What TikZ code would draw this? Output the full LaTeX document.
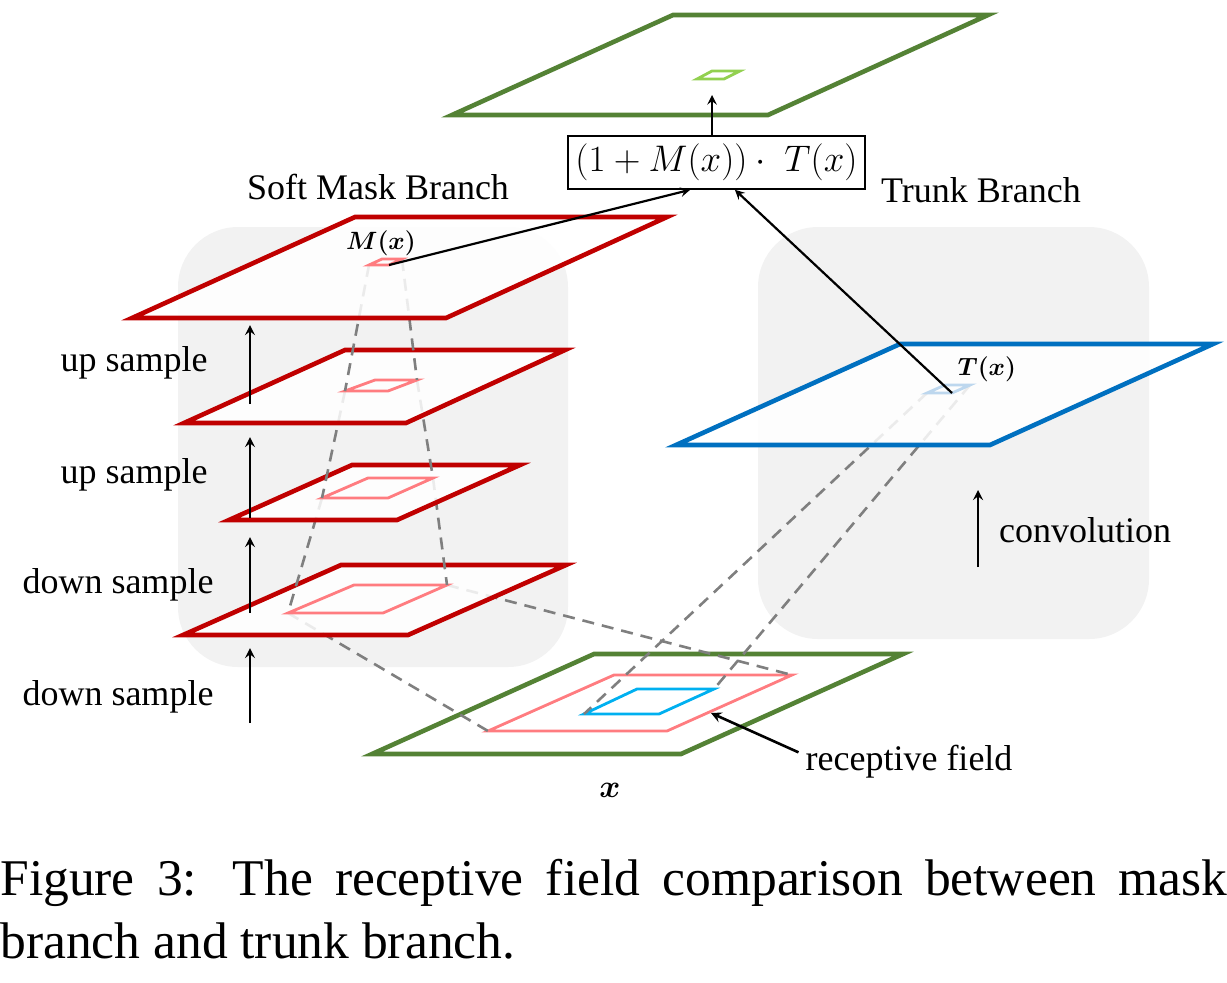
\RequirePackage{fix-cm}
\documentclass[tikz,border=0pt]{standalone}
\usepackage{fontspec}
\setmainfont{Liberation Serif}
\newfontfamily\figfont{Liberation Serif}
\usepackage{bm}
\definecolor{maskred}{HTML}{C00000}
\definecolor{fieldred}{HTML}{FF7C80}
\definecolor{outgreen}{HTML}{548235}
\definecolor{spotgreen}{HTML}{92D050}
\definecolor{trunkblue}{HTML}{0070C0}
\definecolor{fieldblue}{HTML}{00B0F0}
\definecolor{spotblue}{HTML}{BDD7EE}
\definecolor{boxgray}{HTML}{F2F2F2}
\definecolor{raygray}{HTML}{7F7F7F}
\tikzset{
	layer/.style={line width=2.3pt, fill=white, fill opacity=0.85},
	patch/.style={line width=1.4pt},
	ray/.style={line width=1.3pt, draw=raygray, dash pattern=on 6pt off 4pt},
	branch/.style={fill=boxgray, rounded corners=30pt},
	up/.style={->, line width=1.2pt},
	hint/.style={->, line width=1.1pt}
}
\begin{document}
\begin{tikzpicture}[x=0.5pt, y=-0.5pt, >=stealth, font=\figfont\fontsize{18}{22}\selectfont]
		\useasboundingbox (0,0) rectangle (1227,982);
		%	\draw[color=gray!30] (0,0) grid[step=50] (1227,982);
		\fill[branch] (178,227) rectangle (568,667);
		\fill[branch] (758,227) rectangle (1149,639);
		% input x
		\draw[layer, draw=outgreen] (594,654) -- (903,654) -- (681,754) -- (372,754) -- cycle;
		\path (614,675) coordinate (rf1) (792,675) coordinate (rf2) (667,731) coordinate (rf3) (488,731) coordinate (rf4);
		\draw[patch, draw=fieldred] (rf1) -- (rf2) -- (rf3) -- (rf4) -- cycle;
		\path (637,689) coordinate (cv1) (714,689) coordinate (cv2) (659,714) coordinate (cv3) (584,714) coordinate (cv4);
		\draw[patch, draw=fieldblue] (cv1) -- (cv2) -- (cv3) -- (cv4) -- cycle;
		\path (945,385) coordinate (t1) (970,385) coordinate (t2) (952,393) coordinate (t3) (927,393) coordinate (t4);
		\path (354,585) coordinate (d1) (447,585) coordinate (d2) (383,613) coordinate (d3) (288,613) coordinate (d4);
		\path (368,478) coordinate (u1) (433,478) coordinate (u2) (388,498) coordinate (u3) (322,498) coordinate (u4);
		\path (375,380) coordinate (v1) (417,380) coordinate (v2) (388,391) coordinate (v3) (345,391) coordinate (v4);
		\path (382,259) coordinate (m1) (402,259) coordinate (m2) (389,265) coordinate (m3) (369,265) coordinate (m4);
		\draw[ray] (d4) -- (rf4);
		\draw[ray] (d2) -- (rf2);
		\draw[ray] (t4) -- (cv4);
		\draw[ray] (t2) -- (cv2);
		% soft mask branch
		\draw[layer, draw=maskred] (341,565) -- (566,565) -- (408,635) -- (183,635) -- cycle;
		\draw[patch, draw=fieldred] (d1) -- (d2) -- (d3) -- (d4) -- cycle;
		\draw[ray] (u4) -- (d4);
		\draw[ray] (u2) -- (d2);
		\draw[layer, draw=maskred] (352,465) -- (520,465) -- (397,520) -- (229,520) -- cycle;
		\draw[patch, draw=fieldred] (u1) -- (u2) -- (u3) -- (u4) -- cycle;
		\draw[ray] (v4) -- (u4);
		\draw[ray] (v2) -- (u2);
		\draw[layer, draw=maskred] (345,350) -- (565,350) -- (406,423) -- (184,423) -- cycle;
		\draw[patch, draw=fieldred] (v1) -- (v2) -- (v3) -- (v4) -- cycle;
		\draw[ray] (m4) -- (v4);
		\draw[ray] (m2) -- (v2);
		\draw[layer, draw=maskred] (355,217) -- (667,217) -- (446,318) -- (132,318) -- cycle;
		\draw[patch, draw=fieldred] (m1) -- (m2) -- (m3) -- (m4) -- cycle;
		% trunk branch
		\draw[layer, draw=trunkblue] (900,344) -- (1213,344) -- (990,445) -- (676,445) -- cycle;
		\draw[patch, draw=spotblue] (t1) -- (t2) -- (t3) -- (t4) -- cycle;
		% output
		\draw[layer, draw=outgreen] (673,15) -- (988,15) -- (768,115) -- (452,115) -- cycle;
		\draw[patch, draw=spotgreen] (712,71) -- (740,71) -- (724,79) -- (697,79) -- cycle;
		\coordinate (gin) at (712,95);
		\foreach \i/\ya/\yb in {1/723/648, 2/613/537, 3/518/437, 4/404/325}{
			\coordinate (s\i) at (250,\ya);
			\coordinate (e\i) at (250,\yb);
			\draw[up] (s\i) -- (e\i);
		}
		\node (ds1) at (118,697) {down sample};
		\node (ds2) at (118,585) {down sample};
		\node (us1) at (134,475) {up sample};
		\node (us2) at (134,363) {up sample};
		\coordinate (cs) at (978,567);
		\coordinate (ce) at (978,490);
		\draw[up] (cs) -- (ce);
		\node (conv) at (1085,530) {convolution};
		\node (smb) at (378,187) {Soft Mask Branch};
		\node (tb) at (981,190) {Trunk Branch};
		\node[font=\fontsize{12.5}{15}\selectfont] (mx) at (381,243) {$\bm{M(x)}$};
		\node[font=\fontsize{12.5}{15}\selectfont] (tx) at (987,369) {$\bm{T(x)}$};
		\node[font=\fontsize{16}{18}\selectfont] (xin) at (610,790) {$\bm{x}$};
		\node[draw, line width=0.8pt, minimum width=148.5pt, minimum height=26.5pt, inner sep=0pt, font=\fontsize{18.5}{22}\selectfont] (f) at (716.5,162.5) {$\bigl(1+M(x)\bigr)\cdot\;T(x)$};
		\draw[hint] (f.north -| gin) -- (gin);
		\draw[hint] (m3) -- (f.-134);
		\draw[hint] (t3) -- (f.-56);
		\node (rfl) at (909,762) {receptive field};
		\coordinate (rfin) at (711,713);
		\draw[hint, line width=1.3pt] (rfl.175) -- (rfin);
		\node[anchor=base west, inner sep=0pt, font=\figfont\fontsize{25.75}{31}\selectfont] (cap1) at (0,895) {\makebox[613.5pt][s]{Figure 3: The receptive field comparison between mask}};
		\node[anchor=base west, inner sep=0pt, font=\figfont\fontsize{25.75}{31}\selectfont] (cap2) at (0,958) {branch and trunk branch.};
\end{tikzpicture}
\end{document}
